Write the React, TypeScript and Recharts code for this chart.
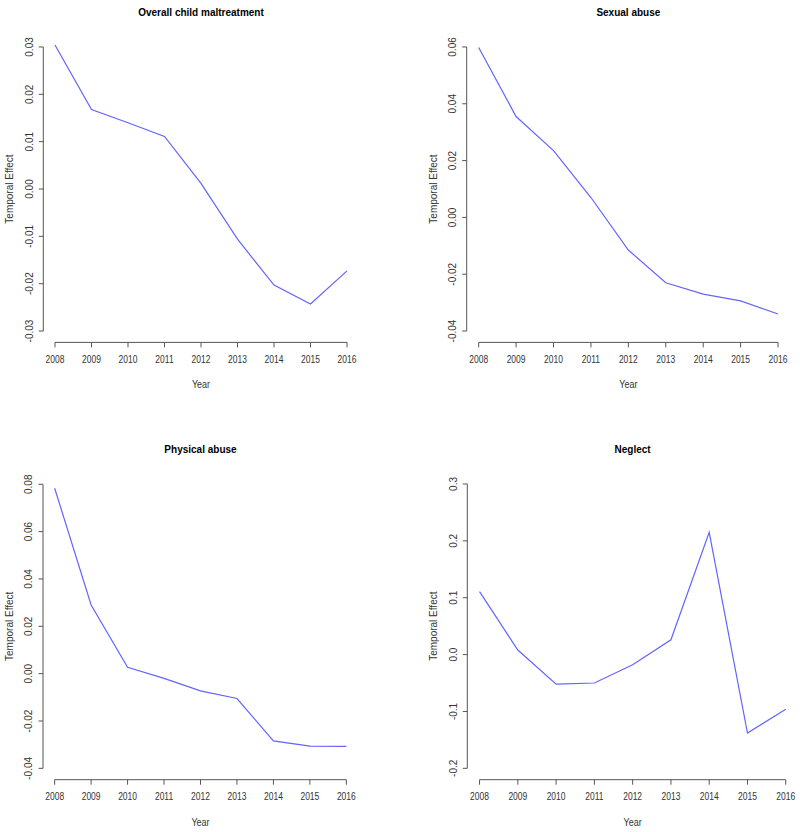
import { LineChart, Line, XAxis, YAxis, ReferenceLine } from "recharts";

// years on the x axis, shared by all four panels
const YEARS = [2008, 2009, 2010, 2011, 2012, 2013, 2014, 2015, 2016];

// temporal effect per year
const OVERALL = [0.0304, 0.0168, 0.014, 0.0111, 0.0012, -0.0106, -0.0203, -0.0243, -0.0173];
const SEXUAL = [0.0598, 0.0355, 0.0235, 0.007, -0.0115, -0.023, -0.027, -0.0294, -0.034];
const PHYSICAL = [0.0783, 0.029, 0.0027, -0.002, -0.0073, -0.0105, -0.0284, -0.0306, -0.0307];
const NEGLECT = [0.1106, 0.008, -0.052, -0.05, -0.018, 0.026, 0.215, -0.138, -0.096];

// y tick values per panel
const OVERALL_TICKS = [-0.03, -0.02, -0.01, 0, 0.01, 0.02, 0.03];
const SEXUAL_TICKS = [-0.04, -0.02, 0, 0.02, 0.04, 0.06];
const PHYSICAL_TICKS = [-0.04, -0.02, 0, 0.02, 0.04, 0.06, 0.08];
const NEGLECT_TICKS = [-0.2, -0.1, 0, 0.1, 0.2, 0.3];

const FONT = '"Liberation Sans", Arial, Helvetica, sans-serif';
const LINE_COLOR = "#6464ff";
const AXIS_COLOR = "#555";
const TEXT_COLOR = "#333";

const CELL_W = 400;
const CELL_H = 416;
const X_AXIS_H = 60;

type Rect = { left: number; top: number; right: number; bottom: number };

type PanelProps = {
  title: string;
  values: number[];
  yTicks: number[];
  decimals: number;
  cell: { x: number; y: number };
  plot: Rect;
};

function XTick(props: any) {
  const { x, y, payload } = props;
  return (
    <g transform={`translate(${x},${y})`}>
      <text transform="scale(0.85,1)" textAnchor="middle" dy="0.71em" fontSize={10} fill={TEXT_COLOR} fontFamily={FONT}>
        {payload.value}
      </text>
    </g>
  );
}

function YTick(props: any) {
  const { x, y, payload, decimals } = props;
  return (
    <text
      x={x}
      y={y}
      transform={`rotate(-90 ${x} ${y})`}
      textAnchor="middle"
      fontSize={10}
      fill={TEXT_COLOR}
      fontFamily={FONT}
    >
      {Number(payload.value).toFixed(decimals)}
    </text>
  );
}

function Panel({ title, values, yTicks, decimals, cell, plot }: PanelProps) {
  const data = YEARS.map((year, i) => ({ year, value: values[i] }));
  const first = YEARS[0];
  const last = YEARS[YEARS.length - 1];
  // R's default 4% axis extension
  const xPad = (last - first) * 0.04;
  const xDomain = [first - xPad, last + xPad];
  const yLo = yTicks[0];
  const yHi = yTicks[yTicks.length - 1];
  const yPad = (yHi - yLo) * 0.04;
  const yDomain = [yLo - yPad, yHi + yPad];

  const margin = {
    top: plot.top - cell.y,
    right: cell.x + CELL_W - plot.right,
    bottom: cell.y + CELL_H - plot.bottom - X_AXIS_H,
    left: 0,
  };
  const yAxisW = plot.left - cell.x;
  const cx = (plot.left + plot.right) / 2 - cell.x;
  const cy = (plot.top + plot.bottom) / 2 - cell.y;

  return (
    <div style={{ position: "absolute", left: cell.x, top: cell.y, width: CELL_W, height: CELL_H }}>
      <LineChart width={CELL_W} height={CELL_H} data={data} margin={margin}>
        <XAxis
          dataKey="year"
          type="number"
          domain={xDomain}
          ticks={YEARS}
          interval={0}
          height={X_AXIS_H}
          axisLine={false}
          tickLine={{ stroke: AXIS_COLOR }}
          tickSize={5}
          tickMargin={8.5}
          tick={<XTick />}
        />
        <YAxis
          type="number"
          domain={yDomain}
          ticks={yTicks}
          interval={0}
          width={yAxisW}
          axisLine={false}
          tickLine={{ stroke: AXIS_COLOR }}
          tickSize={4.5}
          tickMargin={6}
          tick={<YTick decimals={decimals} />}
        />
        <ReferenceLine
          segment={[{ x: first, y: yDomain[0] }, { x: last, y: yDomain[0] }]}
          stroke={AXIS_COLOR}
          ifOverflow="visible"
        />
        <ReferenceLine
          segment={[{ x: xDomain[0], y: yLo }, { x: xDomain[0], y: yHi }]}
          stroke={AXIS_COLOR}
          ifOverflow="visible"
        />
        <Line
          type="linear"
          dataKey="value"
          stroke={LINE_COLOR}
          strokeWidth={1.2}
          dot={false}
          activeDot={false}
          isAnimationActive={false}
        />
      </LineChart>
      <svg
        width={CELL_W}
        height={CELL_H}
        style={{ position: "absolute", left: 0, top: 0, pointerEvents: "none" }}
        fontFamily={FONT}
      >
        <text x={cx} y={plot.top - cell.y - 20} textAnchor="middle" fontSize={10} fontWeight="bold" fill="#000">
          {title}
        </text>
        <g transform={`translate(${cx},${plot.bottom - cell.y + 46})`}>
          <text transform="scale(0.9,1)" textAnchor="middle" fontSize={10} fill={TEXT_COLOR}>
            Year
          </text>
        </g>
        <text
          x={plot.left - cell.x - 30}
          y={cy}
          transform={`rotate(-90 ${plot.left - cell.x - 30} ${cy})`}
          textAnchor="middle"
          fontSize={10}
          fill={TEXT_COLOR}
        >
          Temporal Effect
        </text>
      </svg>
    </div>
  );
}

export default function App() {
  return (
    <div style={{ position: "absolute", left: 0, top: 0, width: 800, height: 832, background: "#fff" }}>
      <Panel
        title="Overall child maltreatment"
        values={OVERALL}
        yTicks={OVERALL_TICKS}
        decimals={2}
        cell={{ x: 0, y: 0 }}
        plot={{ left: 43.3, top: 35.6, right: 358.7, bottom: 342.4 }}
      />
      <Panel
        title="Sexual abuse"
        values={SEXUAL}
        yTicks={SEXUAL_TICKS}
        decimals={2}
        cell={{ x: 400, y: 0 }}
        plot={{ left: 466.7, top: 35.6, right: 790, bottom: 342.4 }}
      />
      <Panel
        title="Physical abuse"
        values={PHYSICAL}
        yTicks={PHYSICAL_TICKS}
        decimals={2}
        cell={{ x: 0, y: 416 }}
        plot={{ left: 43, top: 472.9, right: 358, bottom: 779.7 }}
      />
      <Panel
        title="Neglect"
        values={NEGLECT}
        yTicks={NEGLECT_TICKS}
        decimals={1}
        cell={{ x: 400, y: 416 }}
        plot={{ left: 467.3, top: 472.6, right: 798, bottom: 779.7 }}
      />
    </div>
  );
}
